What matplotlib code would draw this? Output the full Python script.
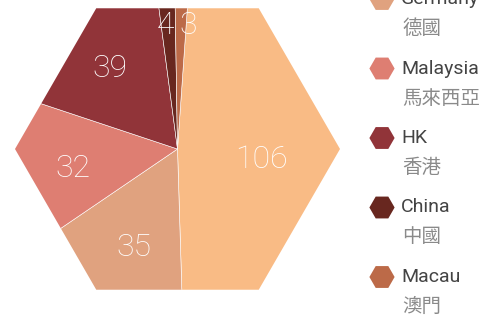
import matplotlib.pyplot as plt
import numpy as np
from matplotlib.patches import RegularPolygon

# visitors by origin
names_en = ['Taiwan', 'Germany', 'Malaysia', 'HK', 'China', 'Macau']
names_zh = ['台灣', '德國', '馬來西亞', '香港', '中國', '澳門']
values = [106, 35, 32, 39, 4, 3]
colors = ['#F9BB85', '#E0A27F', '#DE7E72', '#913439', '#68271F', '#BC6A48']

W, H = 486, 320
fig = plt.figure(figsize=(4.86, 3.2), dpi=100)
ax = fig.add_axes([0, 0, 1, 1])

cx, cy = 177.5, H - 149
R = 162.5  # hexagon circumradius

wedges, _ = ax.pie(values, colors=colors, startangle=86, counterclock=False,
                   radius=R + 10, center=(cx, cy),
                   wedgeprops=dict(edgecolor='white', linewidth=0.4))

# hexagonal outline instead of a circle
hexagon = RegularPolygon((cx, cy), numVertices=6, radius=R,
                         orientation=np.pi / 6, facecolor='none',
                         edgecolor='none')
ax.add_patch(hexagon)
for w in wedges:
    w.set_clip_on(True)
    w.set_clip_path(hexagon)

# value labels
label_r = [86, 106, 106, 106, 124, 124]
label_dx = [-2, 5, 0, 0, -3, 7]
label_dy = [-9, -4, -5, -1, 0, 0]
for w, v, r, dx, dy in zip(wedges, values, label_r, label_dx, label_dy):
    ang = np.deg2rad((w.theta1 + w.theta2) / 2)
    ax.text(cx + r * np.cos(ang) + dx, cy + r * np.sin(ang) + dy, str(v),
            color='white', fontsize=23, family='Roboto', weight='light',
            ha='center', va='center')

# legend down the right side
lx = 382
ly = [H + 70.5 - 69.5 * i for i in range(len(values))]
ax.scatter([lx] * len(values), ly, s=330, marker='H', c=colors, linewidths=0)
for y, en, zh in zip(ly, names_en, names_zh):
    ax.text(lx + 19, y, en, fontsize=14, family='Roboto',
            color='#444444', ha='left', va='center')
    ax.text(lx + 20, y - 29.5, zh, fontsize=14,
            family=['Noto Sans CJK TC', 'DejaVu Sans'], weight='light',
            color='#8a8a8a', ha='left', va='center')

ax.set_xlim(0, W)
ax.set_ylim(0, H)
ax.set_aspect('auto')
ax.axis('off')

fig.savefig('out.png', dpi=100)
